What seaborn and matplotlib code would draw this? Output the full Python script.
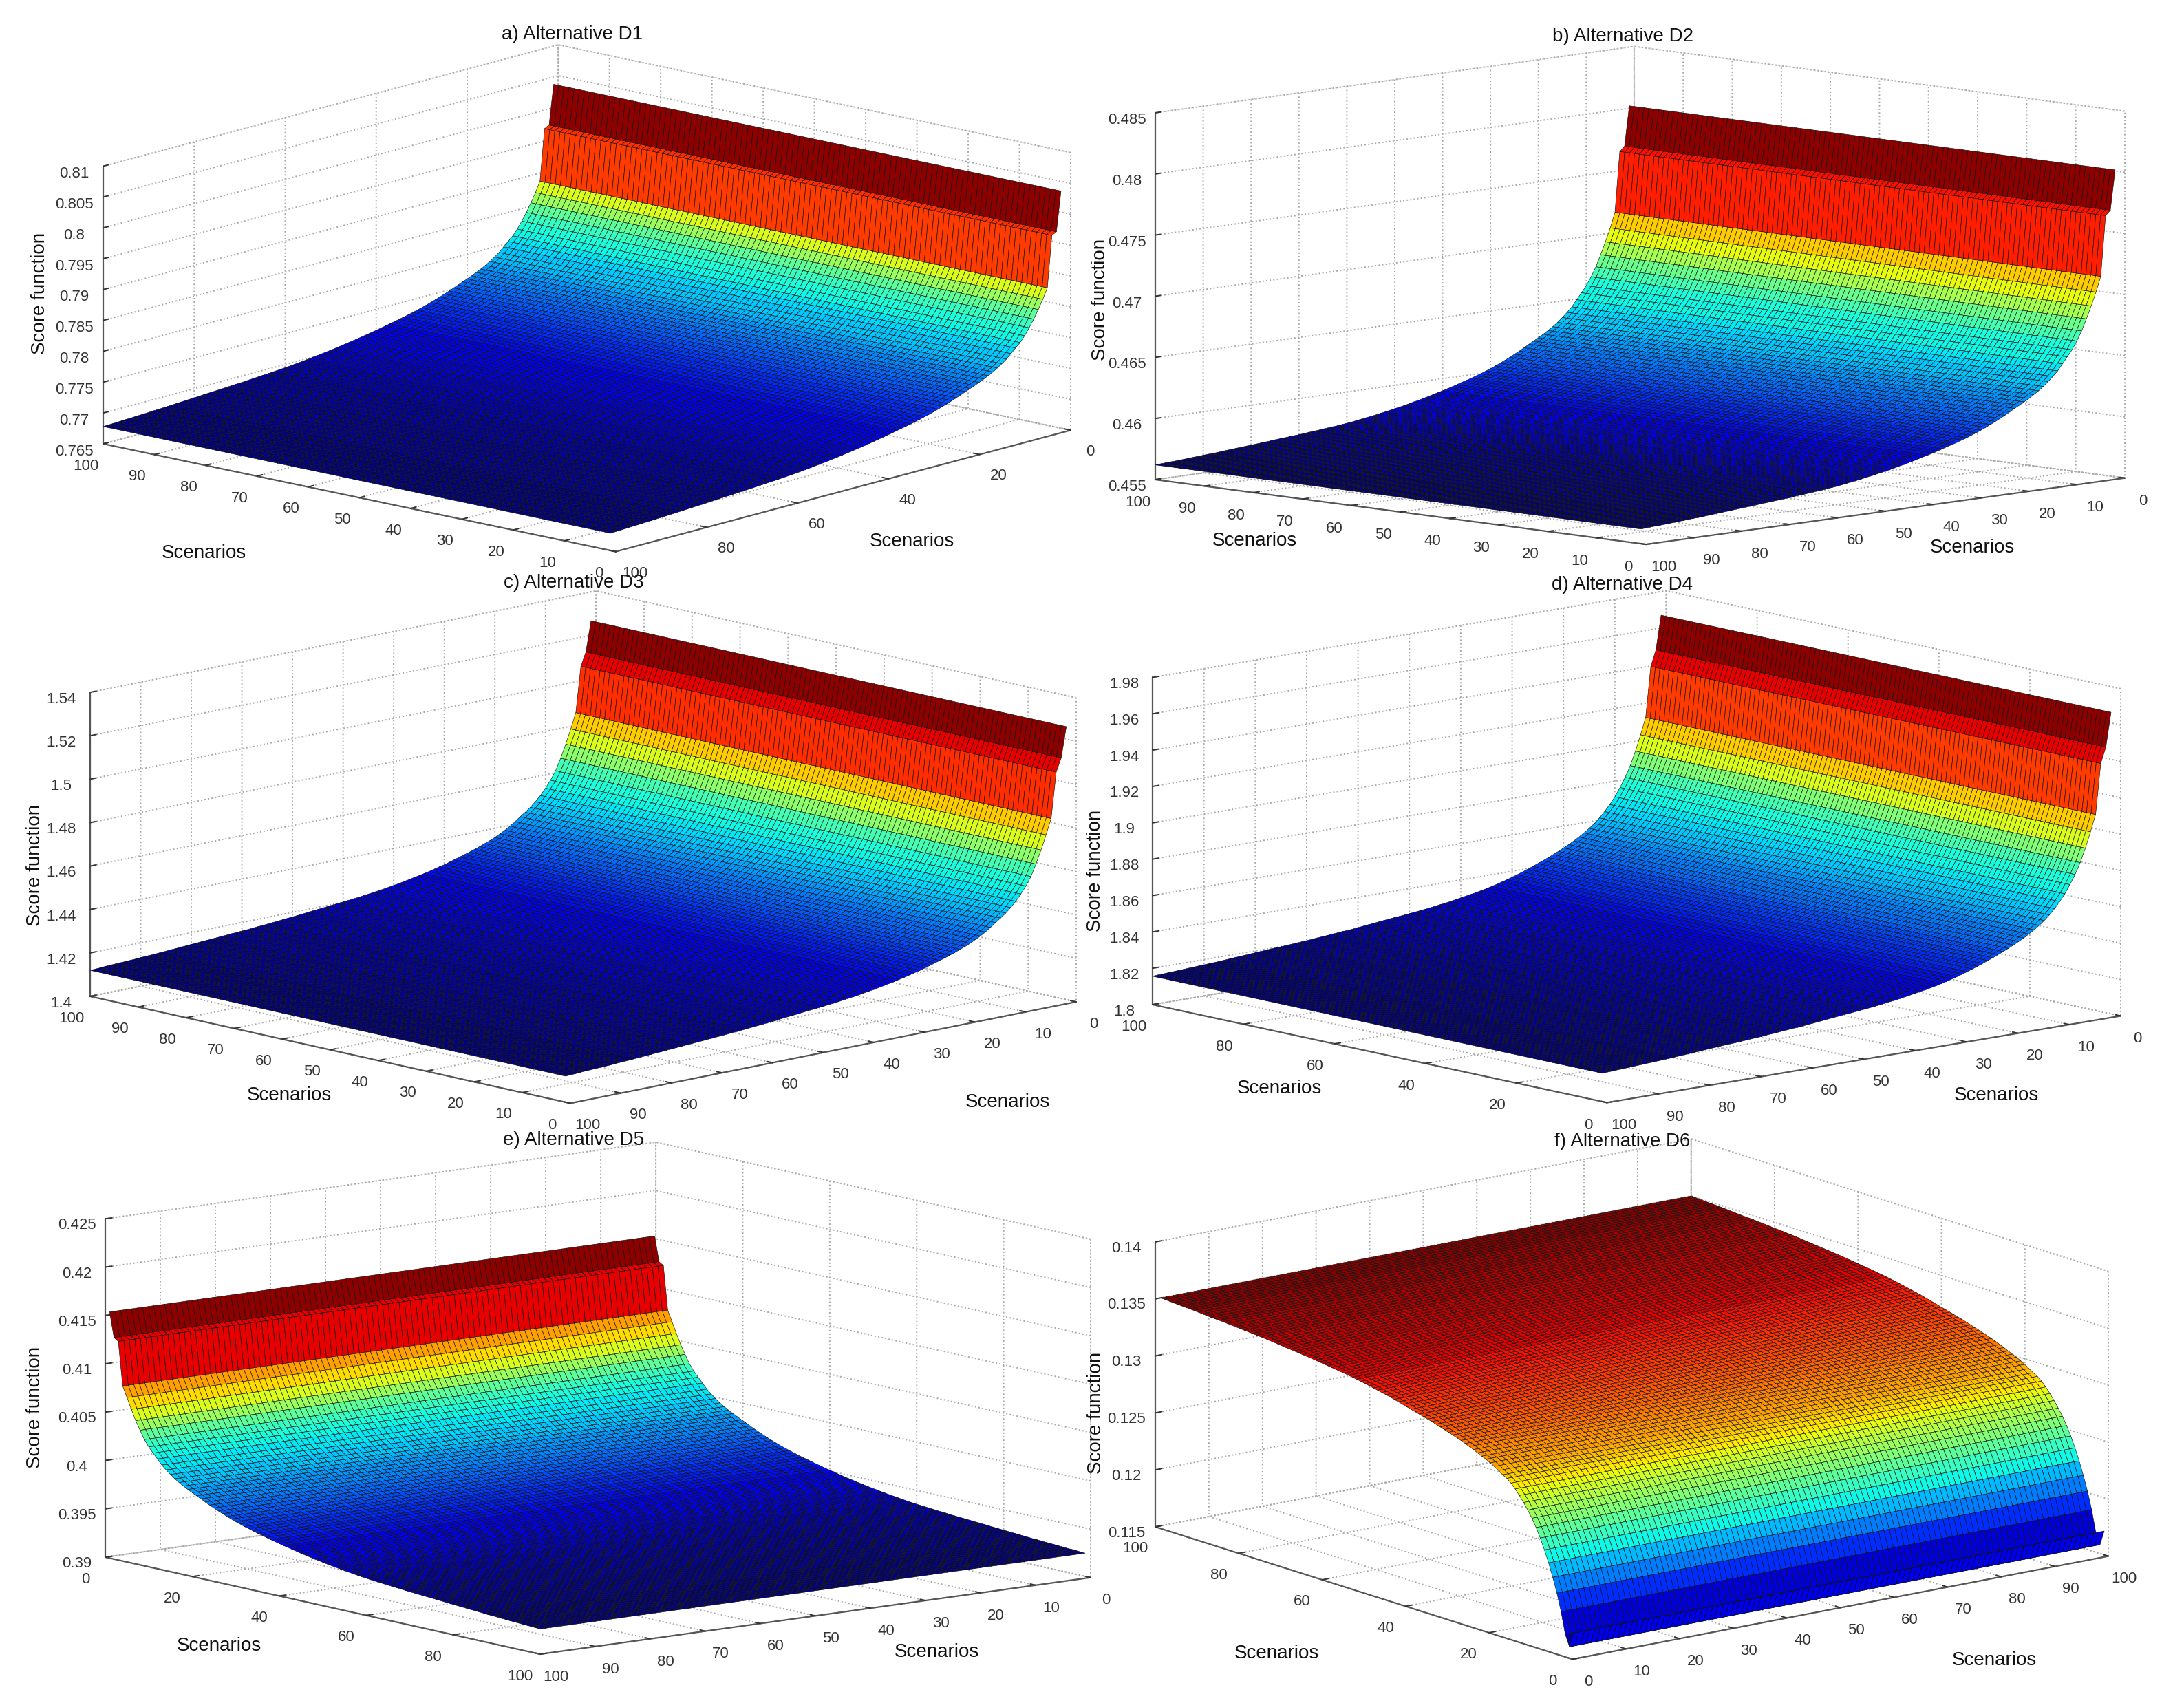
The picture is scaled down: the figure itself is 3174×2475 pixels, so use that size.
import matplotlib
matplotlib.use("Agg")
import matplotlib.pyplot as plt
import numpy as np
import seaborn as sns
from mpl_toolkits.mplot3d import proj3d

W, H = 3174, 2475

# Score function for scenario 1..100 along the steep axis
score_d1 = [.80380, .79740, .79700, .78870, .78703, .78557, .78421, .78300, .78190, .78100,
            .78030, .77960, .77890, .77835, .77785, .77740, .77700, .77665, .77630, .77600,
            .77570, .77540, .77510, .77480, .77452, .77425, .77400, .77375, .77352, .77330,
            .77310, .77290, .77272, .77255, .77238, .77222, .77206, .77190, .77175, .77160,
            .77146, .77132, .77118, .77105, .77092, .77080, .77068, .77056, .77045, .77034,
            .77024, .77014, .77004, .76995, .76986, .76977, .76969, .76961, .76953, .76947,
            .76941, .76935, .76930, .76924, .76920, .76914, .76910, .76905, .76899, .76895,
            .76891, .76887, .76882, .76878, .76874, .76870, .76866, .76862, .76857, .76853,
            .76849, .76845, .76841, .76836, .76832, .76828, .76824, .76820, .76818, .76813,
            .76809, .76807, .76803, .76799, .76797, .76793, .76790, .76786, .76784, .76780]
score_d2 = [.48020, .47695, .47656, .47166, .47042, .46934, .46834, .46741, .46664, .46597,
            .46545, .46493, .46441, .46401, .46364, .46330, .46300, .46274, .46249, .46226,
            .46204, .46183, .46160, .46138, .46118, .46098, .46079, .46061, .46044, .46027,
            .46013, .45997, .45985, .45971, .45959, .45948, .45935, .45923, .45912, .45901,
            .45891, .45881, .45870, .45861, .45850, .45843, .45833, .45824, .45816, .45809,
            .45801, .45793, .45787, .45779, .45773, .45767, .45761, .45755, .45748, .45744,
            .45739, .45734, .45731, .45727, .45724, .45719, .45716, .45713, .45708, .45705,
            .45702, .45699, .45696, .45693, .45690, .45686, .45683, .45680, .45677, .45674,
            .45671, .45668, .45665, .45662, .45659, .45656, .45652, .45649, .45648, .45645,
            .45642, .45640, .45637, .45634, .45632, .45629, .45628, .45625, .45623, .45620]
score_d3 = [1.5267, 1.5128, 1.5067, 1.4858, 1.4787, 1.4722, 1.4662, 1.4609, 1.4570, 1.4538,
            1.4509, 1.4485, 1.4464, 1.4446, 1.4430, 1.4412, 1.4396, 1.4382, 1.4370, 1.4358,
            1.4348, 1.4339, 1.4330, 1.4322, 1.4314, 1.4307, 1.4300, 1.4293, 1.4286, 1.4279,
            1.4274, 1.4268, 1.4262, 1.4257, 1.4252, 1.4248, 1.4243, 1.4239, 1.4234, 1.4231,
            1.4227, 1.4223, 1.4220, 1.4217, 1.4214, 1.4211, 1.4208, 1.4206, 1.4203, 1.4201,
            1.4199, 1.4197, 1.4195, 1.4192, 1.4190, 1.4188, 1.4186, 1.4183, 1.4181, 1.4179,
            1.4177, 1.4175, 1.4173, 1.4171, 1.4169, 1.4167, 1.4166, 1.4164, 1.4162, 1.4161,
            1.4159, 1.4158, 1.4156, 1.4155, 1.4153, 1.4152, 1.4150, 1.4149, 1.4147, 1.4146,
            1.4144, 1.4143, 1.4141, 1.4140, 1.4138, 1.4137, 1.4135, 1.4134, 1.4133, 1.4132,
            1.4130, 1.4129, 1.4128, 1.4127, 1.4126, 1.4125, 1.4124, 1.4122, 1.4121, 1.4120]
score_d4 = [1.9670, 1.9484, 1.9398, 1.9122, 1.9031, 1.8946, 1.8871, 1.8811, 1.8760, 1.8714,
            1.8676, 1.8642, 1.8612, 1.8586, 1.8564, 1.8544, 1.8526, 1.8509, 1.8494, 1.8480,
            1.8466, 1.8453, 1.8441, 1.8429, 1.8418, 1.8407, 1.8396, 1.8386, 1.8376, 1.8367,
            1.8358, 1.8350, 1.8342, 1.8335, 1.8328, 1.8322, 1.8316, 1.8311, 1.8306, 1.8301,
            1.8296, 1.8291, 1.8286, 1.8283, 1.8279, 1.8275, 1.8271, 1.8268, 1.8265, 1.8262,
            1.8259, 1.8256, 1.8254, 1.8251, 1.8248, 1.8245, 1.8242, 1.8239, 1.8236, 1.8233,
            1.8230, 1.8227, 1.8226, 1.8223, 1.8221, 1.8218, 1.8216, 1.8214, 1.8211, 1.8209,
            1.8207, 1.8205, 1.8203, 1.8201, 1.8199, 1.8198, 1.8196, 1.8194, 1.8192, 1.8190,
            1.8188, 1.8186, 1.8184, 1.8182, 1.8180, 1.8178, 1.8176, 1.8174, 1.8173, 1.8171,
            1.8170, 1.8168, 1.8167, 1.8165, 1.8164, 1.8162, 1.8161, 1.8159, 1.8158, 1.8156]
score_d5 = [.41547, .41291, .41262, .40810, .40700, .40589, .40482, .40393, .40306, .40240,
            .40187, .40136, .40083, .40043, .40006, .39971, .39942, .39916, .39891, .39868,
            .39846, .39824, .39801, .39779, .39759, .39739, .39720, .39702, .39685, .39668,
            .39654, .39638, .39626, .39612, .39599, .39589, .39576, .39564, .39553, .39542,
            .39531, .39522, .39511, .39502, .39491, .39483, .39474, .39465, .39457, .39449,
            .39441, .39434, .39427, .39420, .39413, .39407, .39401, .39395, .39389, .39384,
            .39379, .39375, .39372, .39367, .39364, .39359, .39356, .39353, .39348, .39345,
            .39342, .39339, .39336, .39333, .39330, .39327, .39324, .39320, .39317, .39314,
            .39311, .39308, .39305, .39302, .39299, .39296, .39293, .39289, .39288, .39285,
            .39282, .39280, .39277, .39274, .39272, .39269, .39268, .39265, .39263, .39260]
score_d6 = [.11709, .11577, .11674, .11862, .12013, .12140, .12255, .12357, .12450, .12530,
            .12600, .12660, .12715, .12765, .12810, .12850, .12880, .12900, .12925, .12950,
            .12970, .12990, .13005, .13022, .13040, .13055, .13070, .13085, .13098, .13110,
            .13122, .13134, .13146, .13158, .13170, .13180, .13190, .13200, .13210, .13220,
            .13230, .13240, .13250, .13260, .13270, .13278, .13286, .13294, .13302, .13310,
            .13318, .13325, .13332, .13338, .13344, .13350, .13355, .13360, .13365, .13370,
            .13375, .13380, .13385, .13390, .13394, .13398, .13402, .13406, .13410, .13414,
            .13418, .13422, .13426, .13430, .13434, .13437, .13440, .13443, .13446, .13449,
            .13452, .13455, .13458, .13461, .13464, .13466, .13468, .13470, .13473, .13476,
            .13479, .13482, .13484, .13486, .13488, .13490, .13492, .13495, .13498, .13500]

scenarios = np.arange(1, 101)

ticks_d1 = ['0.765', '0.77', '0.775', '0.78', '0.785', '0.79', '0.795', '0.8', '0.805', '0.81']
ticks_d2 = ['0.455', '0.46', '0.465', '0.47', '0.475', '0.48', '0.485']
ticks_d3 = ['1.4', '1.42', '1.44', '1.46', '1.48', '1.5', '1.52', '1.54']
ticks_d4 = ['1.8', '1.82', '1.84', '1.86', '1.88', '1.9', '1.92', '1.94', '1.96', '1.98']
ticks_d5 = ['0.39', '0.395', '0.4', '0.405', '0.41', '0.415', '0.42', '0.425']
ticks_d6 = ['0.115', '0.12', '0.125', '0.13', '0.135', '0.14']

# how far along jet a score sits, bent a little to follow the bands of the picture
bands_in = [0, .10, .17, .23, .31, .37, .45, .50, .58, .68, .80, .88, 1]
bands_out = [0, .105, .175, .235, .315, .35, .40, .47, .62, .74, .84, .915, 1]
bands_in_d6 = [0, .40, .56, .72, .85, .904, .975, 1]
bands_out_d6 = [0, .40, .56, .74, .85, .90, .96, 1]

# view, box and where the floor corners sit in the picture (pixels)
panels = [
    dict(title='a) Alternative D1', score=score_d1, zticks=ticks_d1, xstep=10, ystep=20,
         elev=13.7, azim=131.6, zbox=.417, left=(150, 645), right=(1556, 624),
         left_c=(100, 100), right_c=(0, 0), clim=(.7678, .8038), zside='upper',
         title_xy=(832, 50), lab1=(296, 804), lab2=(1325, 787), zlab=(58, 426)),
    dict(title='b) Alternative D2', score=score_d2, zticks=ticks_d2, xstep=10, ystep=10,
         elev=7.77, azim=134.3, zbox=.54, left=(1679, 697), right=(3088, 696),
         left_c=(100, 100), right_c=(0, 0), clim=(.4562, .4802), zside='upper',
         title_xy=(2358, 53), lab1=(1823, 786), lab2=(2866, 796), zlab=(1599, 435)),
    dict(title='c) Alternative D3', score=score_d3, zticks=ticks_d3, xstep=10, ystep=10,
         elev=12.2, azim=136.5, zbox=.446, left=(131, 1448), right=(1564, 1455),
         left_c=(100, 100), right_c=(0, 0), clim=(1.412, 1.5267), zside='upper',
         title_xy=(834, 847), lab1=(420, 1592), lab2=(1464, 1602), zlab=(51, 1257)),
    dict(title='d) Alternative D4', score=score_d4, zticks=ticks_d4, xstep=20, ystep=10,
         elev=11.0, azim=138.5, zbox=.486, left=(1675, 1460), right=(3082, 1477),
         left_c=(100, 100), right_c=(0, 0), clim=(1.8156, 1.967), zside='upper',
         title_xy=(2358, 850), lab1=(1859, 1582), lab2=(2901, 1592), zlab=(1592, 1265)),
    dict(title='e) Alternative D5', score=score_d5, zticks=ticks_d5, xstep=10, ystep=20,
         elev=10.15, azim=51.7, zbox=.49, left=(153, 2263), right=(1585, 2294),
         left_c=(100, 0), right_c=(0, 100), clim=(.3926, .41547), zside='default',
         title_xy=(834, 1657), lab1=(318, 2392), lab2=(1361, 2401), zlab=(51, 2045)),
    dict(title='f) Alternative D6', score=score_d6, zticks=ticks_d6, xstep=10, ystep=20,
         elev=14.3, azim=232.1, zbox=.433, left=(1679, 2219), right=(3064, 2261),
         left_c=(0, 100), right_c=(100, 0), clim=(.1153, .135), zside='default',
         title_xy=(2358, 1659), lab1=(1855, 2403), lab2=(2898, 2413), zlab=(1593, 2053)),
]

sns.set_style("whitegrid", {"grid.color": "#a8a8a8", "grid.linestyle": ":",
                            "axes.edgecolor": "#555555", "xtick.color": "#333333",
                            "ytick.color": "#333333", "text.color": "#111111"})
plt.rcParams['font.family'] = ['Liberation Sans', 'DejaVu Sans']
plt.rcParams['grid.linewidth'] = 1.4
jet = np.array(sns.mpl_palette("jet", 64))


def place_box(ax, left_px, right_px, left_c, right_c, zfloor):
    # move the (square) 3d axes so the floor corners land on the given pixels
    M = ax.get_proj()
    fracs = []
    for c in (left_c, right_c):
        u, v, _ = proj3d.proj_transform(c[0], c[1], zfloor, M)
        fracs.append(ax.transAxes.inverted().transform(ax.transData.transform((u, v))))
    size = (right_px[0] - left_px[0]) / (fracs[1][0] - fracs[0][0])
    x0 = left_px[0] - size * fracs[0][0]
    y0 = (H - left_px[1]) - size * fracs[0][1]
    ax.set_position([x0 / W, y0 / H, size / W, size / H])


fig = plt.figure(figsize=(W / 100, H / 100), dpi=100)

for p in panels:
    ax = fig.add_axes([0.25, 0.25, 0.5, 0.5 * W / H], projection='3d', proj_type='ortho')
    ax.patch.set_alpha(0)

    score = np.array(p['score'])
    X, Y = np.meshgrid(scenarios, scenarios)
    Z = np.tile(score[:, None], (1, len(scenarios)))
    lo, hi = p['clim']
    raw = (Z - lo) / (hi - lo)
    if p['score'] is score_d6:
        pos = np.interp(raw, bands_in_d6, bands_out_d6)
    else:
        pos = np.interp(raw, bands_in, bands_out)
    idx = np.clip((pos * 64).astype(int), 0, 63)
    ax.plot_surface(X, Y, Z, rstride=1, cstride=1, facecolors=jet[idx], shade=False,
                    edgecolor='#111111', linewidth=0.45, antialiased=True)

    zvals = [float(t) for t in p['zticks']]
    ax.set_xlim(0, 100, view_margin=0)
    ax.set_ylim(0, 100, view_margin=0)
    ax.set_zlim(zvals[0], zvals[-1], view_margin=0)
    ax.set_xticks(np.arange(0, 101, p['xstep']))
    ax.set_yticks(np.arange(0, 101, p['ystep']))
    ax.set_zticks(zvals)
    ax.set_zticklabels(p['zticks'])
    ax.set_box_aspect((1, 1, p['zbox']))
    ax.view_init(elev=p['elev'], azim=p['azim'])
    ax.tick_params(labelsize=16, pad=12)
    ax.tick_params(axis='z', pad=8)
    ax.zaxis.set_ticks_position(p['zside'])

    for axis in (ax.xaxis, ax.yaxis, ax.zaxis):
        axis.pane.set_facecolor((1, 1, 1, 0))
        axis.pane.set_edgecolor('#a8a8a8')
        axis.pane.set_linestyle(':')
        axis.pane.set_linewidth(1.4)
        axis.line.set_color('#555555')
        axis.line.set_linewidth(1.6)
        axis._axinfo['tick']['inward_factor'] = 0.0
        axis._axinfo['tick']['outward_factor'] = 0.15
        axis._axinfo['tick']['linewidth'] = {True: 1.4, False: 1.0}

    place_box(ax, p['left'], p['right'], p['left_c'], p['right_c'], zvals[0])

    fig.text(p['title_xy'][0] / W, 1 - p['title_xy'][1] / H, p['title'], fontsize=20,
             ha='center', va='center')
    for key in ('lab1', 'lab2'):
        fig.text(p[key][0] / W, 1 - p[key][1] / H, 'Scenarios', fontsize=20,
                 ha='center', va='center')
    fig.text(p['zlab'][0] / W, 1 - p['zlab'][1] / H, 'Score function', fontsize=20,
             rotation=90, ha='center', va='center')

fig.savefig('out.png', dpi=100, facecolor='white')
